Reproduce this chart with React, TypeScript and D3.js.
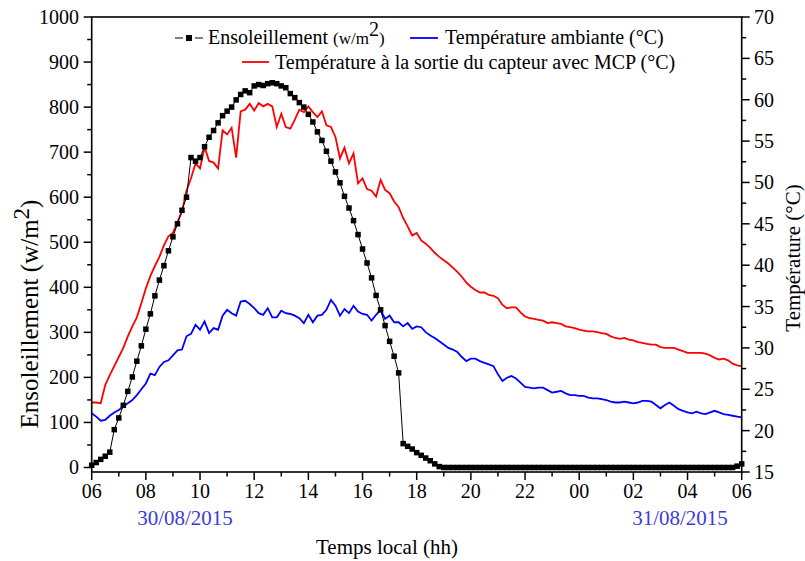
import React from 'react';
import * as d3 from 'd3';

// ---- data (10-minute readings from 06:00 on 30/08/2015 to 06:00 on 31/08/2015) ----
const START_HOUR = 6;
const STEP_MINUTES = 10;

const irradiance = [
  5, 11, 18, 25, 34, 84, 110, 138, 169, 201, 236, 270, 307, 341, 381, 416, 448, 481, 512, 541,
  571, 600, 688, 680, 688, 712, 733, 748, 765, 781, 791, 800, 816, 828, 836, 832, 847, 850, 848, 852,
  854, 852, 847, 843, 830, 821, 810, 800, 784, 767, 745, 726, 702, 680, 656, 632, 602, 576, 548, 517,
  485, 454, 421, 382, 350, 315, 280, 247, 210, 53, 47, 41, 33, 27, 21, 15, 8, 2,
  0, 0, 0, 0, 0, 0, 0, 0, 0, 0, 0, 0, 0,
  0, 0, 0, 0, 0, 0, 0, 0, 0, 0, 0, 0, 0,
  0, 0, 0, 0, 0, 0, 0, 0, 0, 0, 0, 0, 0,
  0, 0, 0, 0, 0, 0, 0, 0, 0, 0, 0, 0, 0,
  0, 0, 0, 0, 0, 0, 0, 0, 0, 0, 0, 0, 0,
  3, 8,
];

const ambientTemp = [
  22.1, 21.7, 21.2, 21.3, 21.8, 22.2, 22.5, 22.9, 23.3, 23.7, 24.3, 25.0, 25.7, 26.9, 26.7, 27.7, 28.3, 28.5, 29.1, 29.7,
  29.8, 31.4, 31.7, 32.8, 32.2, 33.2, 31.8, 32.4, 32.2, 33.9, 34.6, 34.2, 33.9, 35.6, 35.7, 35.3, 34.8, 34.2, 34.0, 34.8,
  33.7, 33.7, 34.5, 34.2, 34.1, 33.9, 33.6, 33.0, 34.0, 33.1, 33.9, 34.0, 34.6, 35.8, 35.1, 33.9, 34.7, 34.2, 35.1, 34.4,
  34.1, 34.0, 33.3, 34.0, 34.6, 33.5, 33.9, 33.1, 33.1, 32.6, 33.0, 32.3, 32.6,
  32.5, 31.9, 31.5, 31.2, 30.8, 30.4, 30.0, 29.8, 29.5, 28.9, 28.4, 28.7, 28.7, 28.4, 28.2, 28.0, 27.8, 26.8, 26.0, 26.4,
  26.6, 26.3, 25.8, 25.3, 25.2, 25.1, 25.2, 25.2, 24.9, 24.6, 24.7, 24.8, 24.5, 24.3, 24.3, 24.2, 24.2, 24.0, 23.9, 23.9,
  23.8, 23.7, 23.5, 23.4, 23.4, 23.5, 23.4, 23.3, 23.4, 23.6, 23.6, 23.5, 23.1, 22.7, 23.1, 23.4, 23.0, 22.6, 22.4, 22.2,
  22.1, 22.3, 22.1, 22.0, 22.2, 22.4, 22.2, 22.0, 21.9, 21.8, 21.7, 21.6,
];

const outletTemp = [
  23.4, 23.4, 23.3, 25.5, 26.7, 27.8, 28.9, 30.0, 31.4, 32.6, 33.7, 35.4, 37.2, 38.7, 39.9, 41.0, 42.4, 43.5, 43.9, 45.2,
  46.5, 49.0, 50.5, 52.3, 51.7, 54.3, 52.6, 52.4, 51.7, 56.3, 55.8, 56.6, 53.0, 58.6, 58.8, 59.5, 58.7, 59.6, 59.2, 59.5,
  59.2, 56.7, 58.3, 56.7, 56.5, 57.6, 58.8, 58.5, 59.2, 58.5, 57.9, 58.6, 56.9, 56.7, 55.5, 52.9, 54.2, 52.3, 53.5, 49.9,
  50.5, 49.2, 49.0, 48.3, 50.3, 49.1, 48.7, 47.7, 47.0, 45.7, 44.7, 43.6, 43.9,
  43.0, 42.6, 42.1, 41.5, 41.0, 40.6, 40.2, 39.7, 39.2, 38.6, 37.9, 37.4, 37.0, 36.7, 36.7, 36.4, 36.3, 36.0, 35.2, 34.8,
  34.9, 34.9, 34.3, 33.8, 33.6, 33.5, 33.4, 33.3, 33.0, 33.1, 33.0, 32.9, 32.6, 32.5, 32.4, 32.2, 32.1, 32.0, 32.0, 31.9,
  31.8, 31.7, 31.4, 31.2, 31.1, 31.2, 31.0, 30.9, 30.7, 30.6, 30.5, 30.4, 30.4, 30.1, 30.0, 30.0, 30.0, 29.8, 29.6, 29.4,
  29.4, 29.4, 29.4, 29.3, 29.1, 28.8, 28.6, 28.7, 28.5, 28.1, 27.9, 27.8,
];

const xTickHours = [6, 8, 10, 12, 14, 16, 18, 20, 22, 24, 26, 28, 30];
const xTickLabels = ['06', '08', '10', '12', '14', '16', '18', '20', '22', '00', '02', '04', '06'];
const leftTicks = [0, 100, 200, 300, 400, 500, 600, 700, 800, 900, 1000];
const rightTicks = [15, 20, 25, 30, 35, 40, 45, 50, 55, 60, 65, 70];
const dateLabels = ['30/08/2015', '31/08/2015'];

// ---- layout ----
const W = 805;
const H = 561;
const PL = 91.7;
const PR = 741.7;
const PT = 17;
const PB = 472;
const FONT = "'Liberation Serif', 'DejaVu Serif', serif";

export default function App() {
  const x = d3.scaleLinear().domain([6, 30]).range([PL, PR]);
  const yL = d3.scaleLinear().domain([-10, 1000]).range([PB, PT]);
  const yR = d3.scaleLinear().domain([15, 70]).range([PB, PT]);
  const hourOf = (i: number) => START_HOUR + (i * STEP_MINUTES) / 60;

  const lineL = d3.line<number>().x((_, i) => x(hourOf(i))).y((d) => yL(d));
  const lineR = d3.line<number>().x((_, i) => x(hourOf(i))).y((d) => yR(d));

  const minorX = d3.range(7, 30, 2);
  const minorL = d3.range(50, 1000, 100);
  const minorR = d3.range(17.5, 70, 5);
  const sq = 5.5;
  const dateX = [185, 680];
  const txt = { fontFamily: FONT } as React.CSSProperties;

  return (
    <svg width={W} height={H} style={{ position: 'absolute', left: 0, top: 0, background: '#fff', fontFamily: FONT }}>
      <rect x={0} y={0} width={W} height={H} fill="#fff" />
      {/* series */}
      <path d={lineR(ambientTemp) || ''} fill="none" stroke="#0000ff" strokeWidth={1.8} />
      <path d={lineR(outletTemp) || ''} fill="none" stroke="#ff0000" strokeWidth={1.8} />
      <path d={lineL(irradiance) || ''} fill="none" stroke="#000" strokeWidth={1} />
      {irradiance.map((v, i) => (
        <rect key={i} x={x(hourOf(i)) - sq / 2} y={yL(v) - sq / 2} width={sq} height={sq} fill="#000" />
      ))}
      {/* frame */}
      <rect x={PL} y={PT} width={PR - PL} height={PB - PT} fill="none" stroke="#000" strokeWidth={1.6} />
      {/* bottom axis */}
      {xTickHours.map((h, i) => (
        <g key={'xt' + i}>
          <line x1={x(h)} x2={x(h)} y1={PB} y2={PB + 8} stroke="#000" strokeWidth={1.5} />
          <text x={x(h)} y={498} fontSize={20} textAnchor="middle" fill="#000" style={txt}>{xTickLabels[i]}</text>
        </g>
      ))}
      {minorX.map((h) => (
        <line key={'xm' + h} x1={x(h)} x2={x(h)} y1={PB} y2={PB + 4.5} stroke="#000" strokeWidth={1.5} />
      ))}
      {/* left axis */}
      {leftTicks.map((v) => (
        <g key={'lt' + v}>
          <line x1={PL - 8} x2={PL} y1={yL(v)} y2={yL(v)} stroke="#000" strokeWidth={1.5} />
          <text x={79} y={yL(v) + 7} fontSize={20} textAnchor="end" fill="#000" style={txt}>{v}</text>
        </g>
      ))}
      {minorL.map((v) => (
        <line key={'lm' + v} x1={PL - 4.5} x2={PL} y1={yL(v)} y2={yL(v)} stroke="#000" strokeWidth={1.5} />
      ))}
      {/* right axis */}
      {rightTicks.map((v) => (
        <g key={'rt' + v}>
          <line x1={PR} x2={PR + 8} y1={yR(v)} y2={yR(v)} stroke="#000" strokeWidth={1.5} />
          <text x={754} y={yR(v) + 7} fontSize={20} textAnchor="start" fill="#000" style={txt}>{v}</text>
        </g>
      ))}
      {minorR.map((v) => (
        <line key={'rm' + v} x1={PR} x2={PR + 4.5} y1={yR(v)} y2={yR(v)} stroke="#000" strokeWidth={1.5} />
      ))}
      {/* date labels */}
      {dateLabels.map((d, i) => (
        <text key={d} x={dateX[i]} y={525} fontSize={21} textAnchor="middle" fill="#3c3cd8" style={txt}>{d}</text>
      ))}
      {/* axis titles */}
      <text x={387} y={554} fontSize={21} textAnchor="middle" fill="#000" style={txt}>Temps local (hh)</text>
      <text transform="translate(38,314) rotate(-90)" fontSize={25} textAnchor="middle" fill="#000" style={txt}>
        Ensoleillement (w/m<tspan dy={-9} fontSize={23}>2</tspan><tspan dy={9}>)</tspan>
      </text>
      <text transform="translate(800,258) rotate(-90)" fontSize={21} textAnchor="middle" fill="#000" style={txt}>
        Température (°C)
      </text>
      {/* legend */}
      <line x1={175} x2={183} y1={38} y2={38} stroke="#000" strokeWidth={1} />
      <line x1={195} x2={203} y1={38} y2={38} stroke="#000" strokeWidth={1} />
      <rect x={186} y={35} width={6} height={6} fill="#000" />
      <text x={208} y={44} fontSize={20} fill="#000" style={txt}>
        Ensoleillement <tspan fontSize={17}>(w/m</tspan><tspan dy={-8} fontSize={20}>2</tspan><tspan dy={8} fontSize={17}>)</tspan>
      </text>
      <line x1={410} x2={438} y1={38} y2={38} stroke="#0000ff" strokeWidth={1.8} />
      <text x={445} y={44} fontSize={20} fill="#000" style={txt}>Température ambiante (°C)</text>
      <line x1={242} x2={269} y1={62} y2={62} stroke="#ff0000" strokeWidth={1.8} />
      <text x={275} y={69} fontSize={20} fill="#000" style={txt}>Température à la sortie du capteur avec MCP (°C)</text>
    </svg>
  );
}
